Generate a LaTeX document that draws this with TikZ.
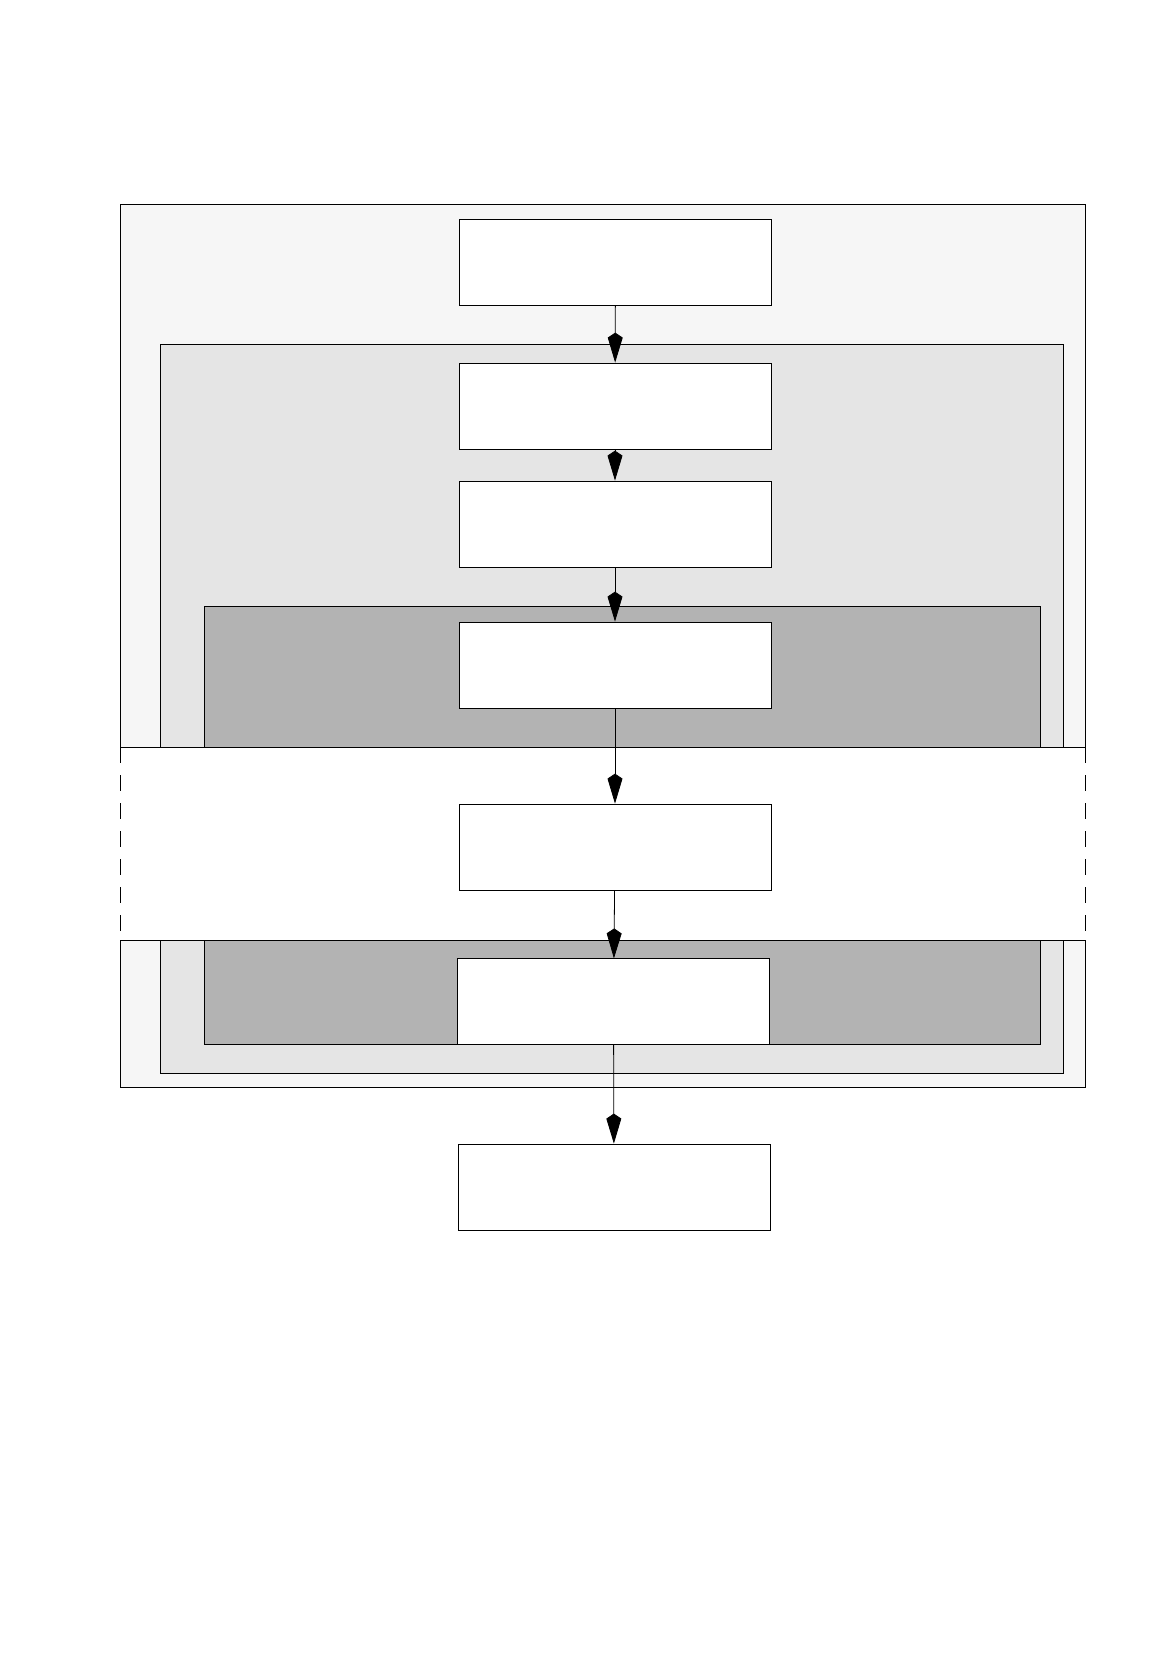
\documentclass[tikz,border=0pt]{standalone}
\usepackage{tikz}
\usetikzlibrary{arrows.meta, positioning}
\usepackage{xcolor}
\definecolor{outergray}{RGB}{246,246,246}
\definecolor{midgray}{RGB}{229,229,229}
\definecolor{darkgray}{RGB}{179,179,179}

\begin{document}
\begin{tikzpicture}[x=0.5pt, y=-0.5pt, line width=0.4pt,
    stepbox/.style={draw, fill=white, minimum width=156pt, minimum height=43pt, inner sep=0pt},
    flow/.style={-{Kite[length=15pt, width=7.5pt, inset=2.5pt]}}]
  \useasboundingbox (0,0) rectangle (1170,1666);
  % nested regions
  \draw[fill=outergray] (120.5,204) rectangle (1085,1087);
  \draw[fill=midgray] (160.5,344) rectangle (1063,1073);
  \draw[fill=darkgray] (204,606) rectangle (1040,1044);
  % white band across the regions
  \fill[white] (118,747) rectangle (1088,940);
  \draw (120.5,747) -- (1085,747);
  \draw (120.5,940) -- (1085,940);
  \draw[dash pattern=on 8pt off 6pt] (120.5,747) -- (120.5,940);
  \draw[dash pattern=on 8pt off 6pt] (1085,747) -- (1085,940);

  \node[stepbox] (b1) at (615.5, 262.3) {};
  \node[stepbox] (b2) at (615, 406) {};
  \node[stepbox] (b3) at (615, 524) {};
  \node[stepbox] (b4) at (615, 665) {};
  \node[stepbox] (b5) at (615, 847) {};
  \node[stepbox] (b6) at (613.5, 1001.8) {};
  \node[stepbox] (b7) at (614, 1187) {};
  \draw[flow] (b1) -- (b2);
  \draw[flow] (b2) -- (b3);
  \draw[flow] (b3) -- (b4);
  \draw[flow] (b4) -- (b5);
  \draw[flow] (b5) -- (b6);
  \draw[flow] (b6) -- (b7);
\end{tikzpicture}
\end{document}
